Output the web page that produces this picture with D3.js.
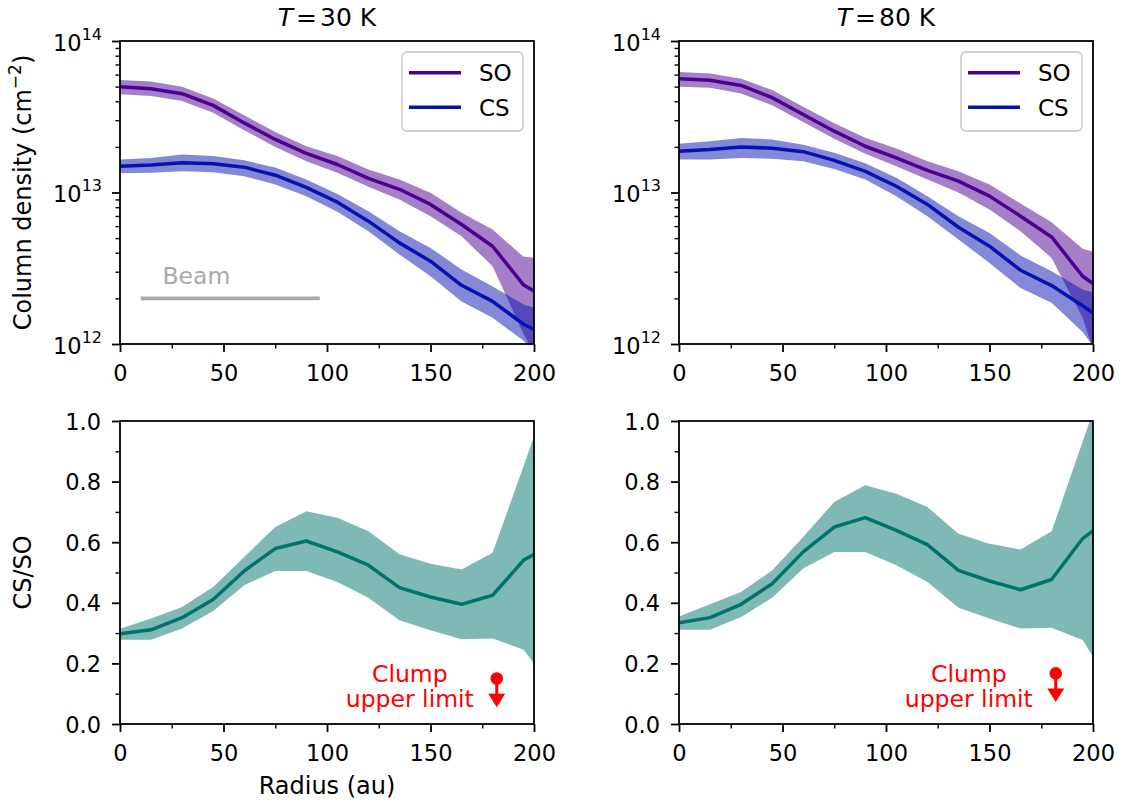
<!DOCTYPE html>
<html>
<head>
<meta charset="utf-8">
<script src="https://cdn.jsdelivr.net/npm/d3@7"></script>
<style>
  html, body { margin: 0; padding: 0; background: #fff; }
  svg { display: block; font-family: "DejaVu Sans", sans-serif; }
</style>
</head>
<body>
<svg id="chart" width="1125" height="802"></svg>
<script>
// ---------------- data ----------------
const radius = [0, 15, 30, 45, 60, 75, 90, 105, 120, 135, 150, 165, 180, 195, 210];

// T = 30 K column densities (cm^-2)
const so30   = [4.99e13, 4.84e13, 4.49e13, 3.76e13, 2.88e13, 2.24e13, 1.81e13, 1.53e13, 1.24e13, 1.05e13, 8.34e12, 6.15e12, 4.42e12, 2.45e12, 1.86e12];
const so30Hi = [5.52e13, 5.41e13, 4.99e13, 4.18e13, 3.23e13, 2.51e13, 2.02e13, 1.74e13, 1.42e13, 1.22e13, 9.95e12, 7.35e12, 5.69e12, 3.76e12, 3.59e12];
const so30Lo = [4.45e13, 4.34e13, 4.02e13, 3.36e13, 2.58e13, 2.00e13, 1.61e13, 1.35e13, 1.09e13, 9.00e12, 6.98e12, 5.14e12, 3.26e12, 1.16e12, 5.0e11];
const cs30   = [1.49e13, 1.52e13, 1.57e13, 1.55e13, 1.47e13, 1.30e13, 1.08e13, 8.63e12, 6.47e12, 4.65e12, 3.52e12, 2.44e12, 1.91e12, 1.35e12, 1.07e12];
const cs30Hi = [1.65e13, 1.69e13, 1.78e13, 1.74e13, 1.63e13, 1.46e13, 1.22e13, 9.79e12, 7.53e12, 5.55e12, 4.31e12, 3.10e12, 2.40e12, 1.82e12, 1.58e12];
const cs30Lo = [1.34e13, 1.35e13, 1.38e13, 1.36e13, 1.28e13, 1.13e13, 9.46e12, 7.45e12, 5.55e12, 3.89e12, 2.80e12, 1.91e12, 1.49e12, 1.05e12, 6.3e11];

// T = 80 K column densities (cm^-2)
const so80   = [5.64e13, 5.50e13, 5.09e13, 4.23e13, 3.27e13, 2.54e13, 2.02e13, 1.69e13, 1.40e13, 1.19e13, 9.46e12, 6.98e12, 5.09e12, 2.80e12, 2.00e12];
const so80Hi = [6.24e13, 6.11e13, 5.64e13, 4.74e13, 3.68e13, 2.86e13, 2.30e13, 1.95e13, 1.61e13, 1.38e13, 1.13e13, 8.45e12, 6.37e12, 4.25e12, 3.72e12];
const so80Lo = [4.99e13, 4.92e13, 4.51e13, 3.76e13, 2.92e13, 2.26e13, 1.80e13, 1.49e13, 1.22e13, 1.00e13, 7.73e12, 5.55e12, 3.70e12, 1.49e12, 3.5e11];
const cs80   = [1.87e13, 1.92e13, 2.00e13, 1.96e13, 1.86e13, 1.63e13, 1.38e13, 1.10e13, 8.34e12, 5.90e12, 4.42e12, 3.07e12, 2.43e12, 1.79e12, 1.29e12];
const cs80Hi = [2.10e13, 2.18e13, 2.29e13, 2.24e13, 2.07e13, 1.83e13, 1.56e13, 1.25e13, 9.46e12, 6.98e12, 5.41e12, 3.84e12, 3.02e12, 2.29e12, 2.00e12];
const cs80Lo = [1.65e13, 1.65e13, 1.69e13, 1.67e13, 1.61e13, 1.43e13, 1.22e13, 9.46e12, 6.98e12, 4.89e12, 3.43e12, 2.34e12, 1.87e12, 1.20e12, 6.3e11];

// CS/SO ratio
const ratio30   = [0.298, 0.311, 0.351, 0.411, 0.505, 0.579, 0.604, 0.568, 0.524, 0.450, 0.419, 0.395, 0.425, 0.541, 0.597];
const ratio30Hi = [0.314, 0.348, 0.386, 0.452, 0.551, 0.650, 0.702, 0.681, 0.636, 0.560, 0.529, 0.510, 0.565, 0.852, 1.139];
const ratio30Lo = [0.278, 0.278, 0.315, 0.373, 0.458, 0.505, 0.505, 0.469, 0.417, 0.342, 0.309, 0.280, 0.282, 0.245, 0.110];
const ratio80   = [0.334, 0.351, 0.395, 0.463, 0.568, 0.650, 0.681, 0.639, 0.592, 0.507, 0.472, 0.443, 0.477, 0.612, 0.690];
const ratio80Hi = [0.355, 0.395, 0.436, 0.507, 0.617, 0.733, 0.788, 0.760, 0.716, 0.628, 0.595, 0.576, 0.636, 0.932, 1.230];
const ratio80Lo = [0.311, 0.311, 0.353, 0.417, 0.513, 0.568, 0.568, 0.524, 0.469, 0.384, 0.348, 0.315, 0.318, 0.277, 0.112];

// clump upper limits
const clumpRadius = 182;
const clumpLimit = [0.150, 0.167];
const clumpErr = 0.05;

// beam
const beamRange = [10, 96.5];
const beamLevel = 2e12;
const beamLabelPos = [20.5, 2.5e12];

// ticks
const xMajor = [0, 50, 100, 150, 200];
const xMinor = [25, 75, 125, 175];
const logMajor = [1e12, 1e13, 1e14];
const logMinor = [2e12, 3e12, 4e12, 5e12, 6e12, 7e12, 8e12, 9e12, 2e13, 3e13, 4e13, 5e13, 6e13, 7e13, 8e13, 9e13];
const ratioMajor = [0, 0.2, 0.4, 0.6, 0.8, 1.0];
const ratioMinor = [0.1, 0.3, 0.5, 0.7, 0.9];

const temps = ["30", "80"];
const speciesNames = ["SO", "CS"];

// ---------------- style ----------------
const FONT = "DejaVu Sans";
const colSO = "#4b008f", colCS = "#0712b0", colRatio = "#00736c", colBeam = "#a9a9a9";
const bandOpacity = 0.5;
const lineW = 3.5, spineW = 1.8;
const labelSize = "24px";

const svg = d3.select("#chart");
const colX = [120, 679], plotW = 414;
const rowY = [41, 421], plotH = 303;

const colData = [
  {so: so30, soHi: so30Hi, soLo: so30Lo, cs: cs30, csHi: cs30Hi, csLo: cs30Lo, r: ratio30, rHi: ratio30Hi, rLo: ratio30Lo},
  {so: so80, soHi: so80Hi, soLo: so80Lo, cs: cs80, csHi: cs80Hi, csLo: cs80Lo, r: ratio80, rHi: ratio80Hi, rLo: ratio80Lo}
];

function styleTicks(g, w) {
  g.select(".domain").remove();
  g.selectAll(".tick line").attr("stroke", "#000").attr("stroke-width", w);
}

function drawXAxis(x, y0) {
  const g = svg.append("g").attr("transform", `translate(0,${y0})`);
  g.call(d3.axisBottom(x).tickValues(xMajor).tickSize(8).tickFormat(d3.format("d")));
  styleTicks(g, spineW);
  g.selectAll(".tick text").attr("y", 37).attr("dy", null)
    .attr("fill", "#000").style("font-size", "22.5px").style("font-family", FONT);
  const gm = svg.append("g").attr("transform", `translate(0,${y0})`);
  gm.call(d3.axisBottom(x).tickValues(xMinor).tickSize(4.5).tickFormat(""));
  styleTicks(gm, 1.4);
}

function drawYAxisLog(y, x0) {
  const g = svg.append("g").attr("transform", `translate(${x0},0)`);
  g.call(d3.axisLeft(y).tickValues(logMajor).tickSize(8).tickFormat(""));
  styleTicks(g, spineW);
  g.selectAll(".tick").each(function(d) {
    const t = d3.select(this).append("text")
      .attr("x", -18).attr("y", 9).attr("text-anchor", "end")
      .attr("fill", "#000").style("font-size", "22.5px").style("font-family", FONT);
    t.append("tspan").text("10");
    t.append("tspan").attr("dy", -11).style("font-size", "16px").text(Math.round(Math.log10(d)));
  });
  const gm = svg.append("g").attr("transform", `translate(${x0},0)`);
  gm.call(d3.axisLeft(y).tickValues(logMinor).tickSize(4.5).tickFormat(""));
  styleTicks(gm, 1.4);
}

function drawYAxisLin(y, x0) {
  const g = svg.append("g").attr("transform", `translate(${x0},0)`);
  g.call(d3.axisLeft(y).tickValues(ratioMajor).tickSize(8).tickFormat(d3.format(".1f")));
  styleTicks(g, spineW);
  g.selectAll(".tick text").attr("x", -19).attr("dy", null).attr("y", 8)
    .attr("fill", "#000").style("font-size", "22.5px").style("font-family", FONT);
  const gm = svg.append("g").attr("transform", `translate(${x0},0)`);
  gm.call(d3.axisLeft(y).tickValues(ratioMinor).tickSize(4.5).tickFormat(""));
  styleTicks(gm, 1.4);
}

function clip(id, x0, y0) {
  svg.append("clipPath").attr("id", id).append("rect")
    .attr("x", x0).attr("y", y0).attr("width", plotW).attr("height", plotH);
  return svg.append("g").attr("clip-path", `url(#${id})`);
}

function band(g, x, y, lo, hi, color) {
  const area = d3.area().x((d, i) => x(radius[i])).y0((d, i) => y(lo[i])).y1((d, i) => y(hi[i]));
  g.append("path").datum(radius).attr("d", area).attr("fill", color).attr("fill-opacity", bandOpacity);
}
function line(g, x, y, vals, color) {
  const ln = d3.line().x((d, i) => x(radius[i])).y((d, i) => y(vals[i]));
  g.append("path").datum(radius).attr("d", ln).attr("fill", "none")
    .attr("stroke", color).attr("stroke-width", lineW).attr("stroke-linejoin", "round");
}

colX.forEach((x0, c) => {
  const D = colData[c];
  const x = d3.scaleLinear().domain([0, 200]).range([x0, x0 + plotW]);
  const yTop = d3.scaleLog().domain([1e12, 1e14]).range([rowY[0] + plotH, rowY[0]]);
  const yBot = d3.scaleLinear().domain([0, 1]).range([rowY[1] + plotH, rowY[1]]);

  // ---- top panel ----
  const gt = clip(`clipTop${c}`, x0, rowY[0]);
  band(gt, x, yTop, D.soLo, D.soHi, colSO);
  band(gt, x, yTop, D.csLo, D.csHi, colCS);
  line(gt, x, yTop, D.so, colSO);
  line(gt, x, yTop, D.cs, colCS);

  if (c === 0) {
    svg.append("line")
      .attr("x1", x(beamRange[0])).attr("x2", x(beamRange[1]))
      .attr("y1", yTop(beamLevel)).attr("y2", yTop(beamLevel))
      .attr("stroke", colBeam).attr("stroke-width", 3.6);
    svg.append("text").attr("x", x(beamLabelPos[0])).attr("y", yTop(beamLabelPos[1]))
      .attr("fill", colBeam).style("font-size", "23.5px").style("font-family", FONT).text("Beam");
  }

  // legend
  const lx = x0 + plotW - 132, ly = rowY[0] + 11;
  const lg = svg.append("g");
  lg.append("rect").attr("x", lx).attr("y", ly).attr("width", 121).attr("height", 79)
    .attr("rx", 5).attr("fill", "#fff").attr("fill-opacity", 0.8)
    .attr("stroke", "#d0d0d0").attr("stroke-width", 1.8);
  [colSO, colCS].forEach((col, k) => {
    const yy = ly + 20.7 + k * 34.6;
    lg.append("line").attr("x1", lx + 7).attr("x2", lx + 59).attr("y1", yy).attr("y2", yy)
      .attr("stroke", col).attr("stroke-width", lineW);
    lg.append("text").attr("x", lx + 77).attr("y", yy + 8.5).attr("fill", "#000")
      .style("font-size", "23px").style("font-family", FONT).text(speciesNames[k]);
  });

  svg.append("rect").attr("x", x0).attr("y", rowY[0]).attr("width", plotW).attr("height", plotH)
    .attr("fill", "none").attr("stroke", "#000").attr("stroke-width", spineW);
  drawXAxis(x, rowY[0] + plotH);
  drawYAxisLog(yTop, x0);

  // title
  const tt = svg.append("text").attr("x", x0 + plotW / 2).attr("y", 26).attr("text-anchor", "middle")
    .attr("fill", "#000").style("font-size", "25px").style("font-family", FONT);
  tt.append("tspan").style("font-style", "italic").text("T");
  tt.append("tspan").attr("dx", 3).text("=");
  tt.append("tspan").attr("dx", 3).text(temps[c] + " K");

  // ---- bottom panel ----
  const gb = clip(`clipBot${c}`, x0, rowY[1]);
  band(gb, x, yBot, D.rLo, D.rHi, colRatio);
  line(gb, x, yBot, D.r, colRatio);

  // clump upper limit
  const cx = x(clumpRadius), cy = yBot(clumpLimit[c]), by = yBot(clumpLimit[c] - clumpErr);
  svg.append("line").attr("x1", cx).attr("x2", cx).attr("y1", cy).attr("y2", by + 2)
    .attr("stroke", "red").attr("stroke-width", 3);
  svg.append("path").attr("d", `M${cx - 8.5},${by} L${cx + 8.5},${by} L${cx},${by + 13.5} Z`).attr("fill", "red");
  svg.append("circle").attr("cx", cx).attr("cy", cy).attr("r", 6.3).attr("fill", "red");
  const ct = svg.append("text").attr("text-anchor", "middle").attr("fill", "red")
    .style("font-size", "23.5px").style("font-family", FONT);
  ct.append("tspan").attr("x", x(140)).attr("y", yBot(0.14)).text("Clump");
  ct.append("tspan").attr("x", x(140)).attr("y", yBot(0.056)).text("upper limit");

  svg.append("rect").attr("x", x0).attr("y", rowY[1]).attr("width", plotW).attr("height", plotH)
    .attr("fill", "none").attr("stroke", "#000").attr("stroke-width", spineW);
  drawXAxis(x, rowY[1] + plotH);
  drawYAxisLin(yBot, x0);
});

// axis labels
svg.append("text").attr("transform", `translate(31,${rowY[0] + plotH / 2}) rotate(-90)`)
  .attr("text-anchor", "middle").attr("fill", "#000").style("font-size", labelSize).style("font-family", FONT)
  .call(t => {
    t.append("tspan").text("Column density (cm");
    t.append("tspan").attr("dy", -10).style("font-size", "17px").text("\u22122");
    t.append("tspan").attr("dy", 10).text(")");
  });
svg.append("text").attr("transform", `translate(31,${rowY[1] + plotH / 2}) rotate(-90)`)
  .attr("text-anchor", "middle").attr("fill", "#000").style("font-size", labelSize).style("font-family", FONT)
  .text("CS/SO");
svg.append("text").attr("x", colX[0] + plotW / 2).attr("y", 794).attr("text-anchor", "middle")
  .attr("fill", "#000").style("font-size", labelSize).style("font-family", FONT).text("Radius (au)");
</script>
</body>
</html>
